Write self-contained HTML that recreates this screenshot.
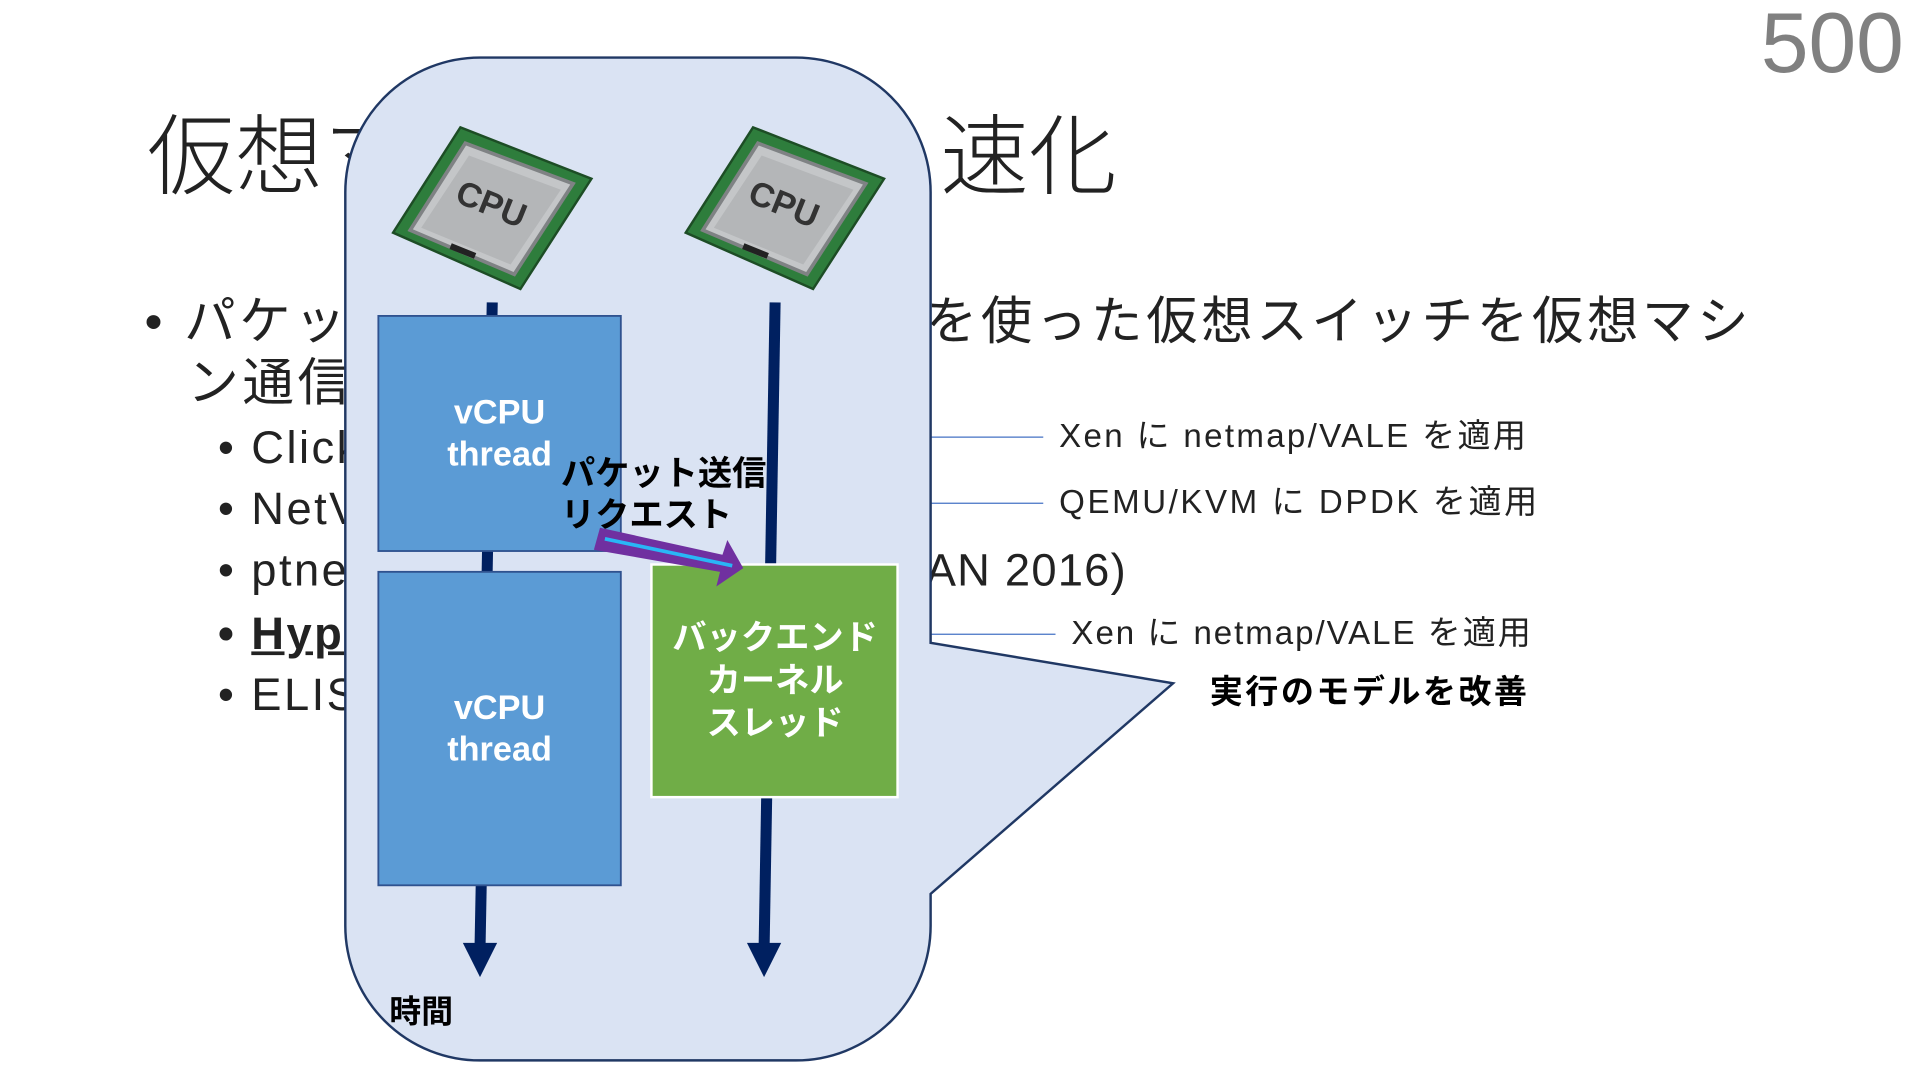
<!DOCTYPE html>
<html><head><meta charset="utf-8"><style>
html,body{margin:0;padding:0;background:#fff;overflow:hidden}
#s{position:absolute;left:0;top:0;width:1568px;height:882px;transform:scale(1.22449);transform-origin:0 0;font-family:"Liberation Sans","Noto Sans CJK JP",sans-serif;color:#000}
.t{position:absolute;white-space:nowrap;line-height:1}
</style></head><body><div id="s">
<div class="t" style="left:1438px;top:0px;font-size:70px;color:#808080;">500</div>
<div class="t" style="left:120px;top:93px;font-size:72px;font-weight:300;color:#222">仮想マシン</div>
<div class="t" style="left:768px;top:93px;font-size:72px;font-weight:300;color:#222">速化</div>
<div class="t" style="left:118px;top:242px;font-size:42px;color:#222;letter-spacing:3px">• パケット</div>
<div class="t" style="left:756px;top:242px;font-size:42px;color:#222;letter-spacing:3px">を使った仮想スイッチを仮想マシ</div>
<div class="t" style="left:153px;top:292px;font-size:42px;color:#222;letter-spacing:3px">ン通信</div>
<div class="t" style="left:178px;top:347px;font-size:37px;color:#222;letter-spacing:2px">• Click</div>
<div class="t" style="left:178px;top:397px;font-size:37px;color:#222;letter-spacing:2px">• NetV</div>
<div class="t" style="left:178px;top:447px;font-size:37px;color:#222;letter-spacing:2px">• ptnet</div>
<div class="t" style="left:756px;top:447px;font-size:37px;color:#222;letter-spacing:1px">AN 2016)</div>
<div class="t" style="left:178px;top:499px;font-size:37px;color:#222;font-weight:bold;letter-spacing:2px">• <u>Hyp</u></div>
<div class="t" style="left:178px;top:549px;font-size:37px;color:#222;letter-spacing:2px">• ELIS</div>
<div class="t" style="left:865px;top:343px;font-size:27px;color:#222;letter-spacing:1.9px">Xen に netmap/VALE を適用</div>
<div class="t" style="left:865px;top:397px;font-size:27px;color:#222;letter-spacing:2.1px">QEMU/KVM に DPDK を適用</div>
<div class="t" style="left:875px;top:504px;font-size:27px;color:#222;letter-spacing:1.6px">Xen に netmap/VALE を適用</div>
<div class="t" style="left:988px;top:552px;font-size:27px;font-weight:bold;letter-spacing:2px">実行のモデルを改善</div>
<svg width="1568" height="882" style="position:absolute;left:0;top:0">
<line x1="760" y1="357" x2="852" y2="357" stroke="#4472c4" stroke-width="1"/>
<line x1="760" y1="411" x2="852" y2="411" stroke="#4472c4" stroke-width="1"/>
<line x1="760" y1="518" x2="862" y2="518" stroke="#4472c4" stroke-width="1"/>
<path d="M392,47 H650 A110,110 0 0 1 760,157 V525 L958,558 L760,730 V756 A110,110 0 0 1 650,866 H392 A110,110 0 0 1 282,756 V157 A110,110 0 0 1 392,47 Z" fill="#dae3f3" stroke="#203864" stroke-width="2"/>
<g id="cpu">
<polygon points="376,104 483,146 425,236 321,190" fill="#2e7d3c" stroke="#1d4d25" stroke-width="2"/>
<polygon points="380,117 468,150 420,224 335,188" fill="#c4c6c8" stroke="#7f8284" stroke-width="3"/>
<polygon points="383,127 458,155 417,216 344,186" fill="#b4b6b8"/>
<text x="400" y="176" font-family="Liberation Sans" font-weight="bold" font-size="28" fill="#333" transform="rotate(22 400 170)" text-anchor="middle">CPU</text>
<line x1="368" y1="201" x2="388" y2="209" stroke="#222" stroke-width="5"/>
</g>
<use href="#cpu" transform="translate(239,0)"/>
<line x1="402" y1="247" x2="392" y2="775" stroke="#002060" stroke-width="9"/>
<polygon points="378,770 406,770 392,798" fill="#002060"/>
<line x1="633" y1="247" x2="624" y2="775" stroke="#002060" stroke-width="9"/>
<polygon points="610,770 638,770 624,798" fill="#002060"/>
<rect x="309" y="258" width="198" height="192" fill="#5b9bd5" stroke="#2f528f" stroke-width="1.5"/>
<rect x="309" y="467" width="198" height="256" fill="#5b9bd5" stroke="#2f528f" stroke-width="1.5"/>
<rect x="532" y="461" width="201" height="190" fill="#70ad47" stroke="#fff" stroke-width="2"/>
<g font-family="Liberation Sans,Noto Sans CJK JP,sans-serif" font-weight="bold" font-size="28" fill="#fff" text-anchor="middle">
<text x="408" y="346">vCPU</text><text x="408" y="380">thread</text>
<text x="408" y="587">vCPU</text><text x="408" y="621">thread</text>
<text x="633" y="530">バックエンド</text><text x="633" y="565">カーネル</text><text x="633" y="600">スレッド</text>
</g>
<polygon points="490,431 590,453 594,441 607,464 585,479 588,467 485,449" fill="#7030a0"/>
<line x1="494" y1="440" x2="598" y2="462" stroke="#29b6f6" stroke-width="3"/>
<g font-family="Liberation Sans,Noto Sans CJK JP,sans-serif" font-weight="bold" font-size="28" fill="#000">
<text x="458" y="396">パケット送信</text><text x="458" y="430">リクエスト</text>
<text x="318" y="835" font-size="26">時間</text>
</g>
</svg>
</div></body></html>
